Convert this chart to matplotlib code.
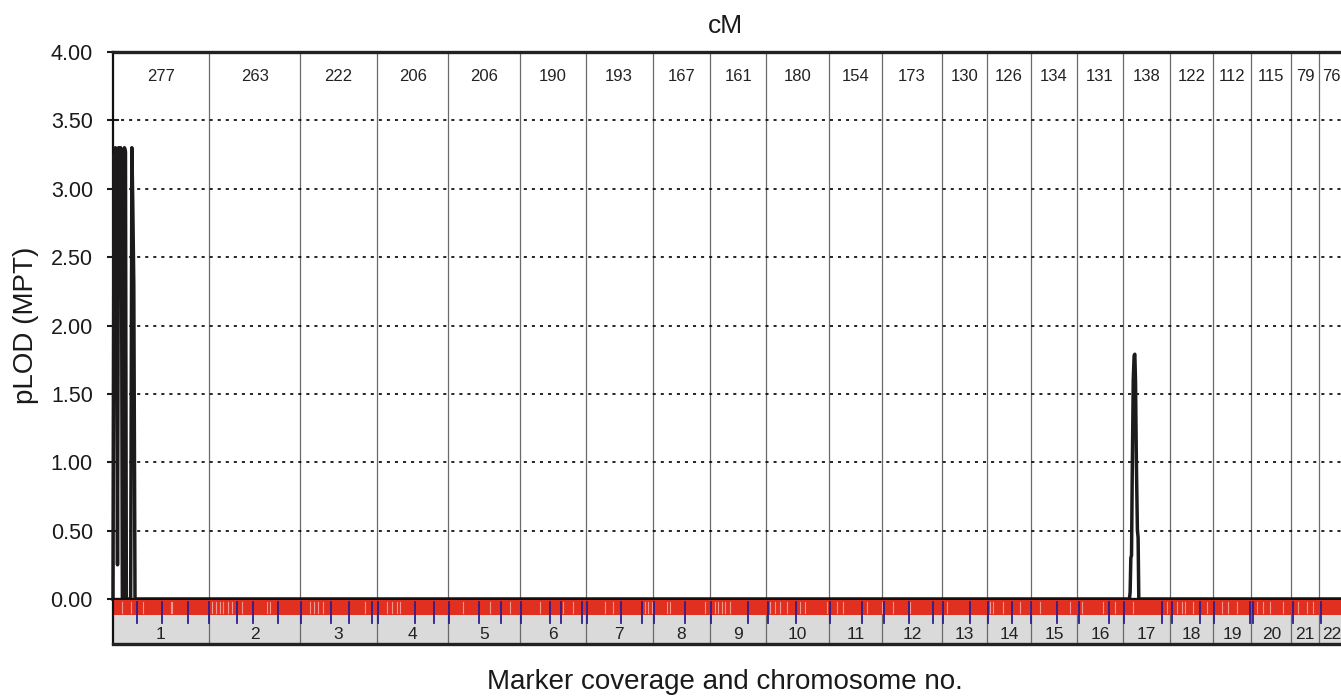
import matplotlib
matplotlib.use("Agg")
import matplotlib.pyplot as plt
import numpy as np

plt.rcParams['font.family'] = ['Liberation Sans', 'DejaVu Sans']
plt.rcParams['lines.scale_dashes'] = False

# ---------------- data ----------------
chrom_names = [str(i) for i in range(1, 23)]
chrom_cm = [277, 263, 222, 206, 206, 190, 193, 167, 161, 180, 154, 173,
            130, 126, 134, 131, 138, 122, 112, 115, 79, 76]

# pLOD profile: chromosome 1 (positions in cM within chromosome)
chr1_pos = [0, 3, 5, 7, 9, 13, 16, 19, 20.5, 22, 24, 27, 30, 33, 36, 38.5,
            51, 54.5, 57, 60, 62, 63.5]
chr1_lod = [0, 3.25, 3.2, 3.3, 3.22, 0.25, 3.3, 3.2, 3.15, 3.3, 3.28, 0.0,
            0.0, 3.3, 3.27, 0.0, 0.0, 3.3, 2.9, 2.3, 1.0, 0.0]
# chromosome 17 peak (positions in cM within chromosome)
chr17_pos = [20, 22, 24, 26, 28, 31, 33.5, 35.5, 37.5, 40, 43, 45, 47]
chr17_lod = [0, 0.05, 0.3, 0.32, 0.9, 1.6, 1.78, 1.79, 1.6, 1.0, 0.5, 0.45, 0]

# marker band (cumulative cM)
blue_ticks = [68, 142, 216, 276, 357, 403, 477, 542, 628, 682, 748, 764, 871,
              927, 970, 1057, 1120, 1176, 1262, 1294, 1354, 1367, 1466, 1527,
              1562, 1650, 1727, 1833, 1889, 1971, 2069, 2162, 2224, 2297, 2365,
              2396, 2474, 2524, 2595, 2650, 2723, 2787, 2875, 2918, 3027, 3057,
              3137, 3178, 3281, 3289, 3404, 3487]
white_marks = [25, 51, 87, 166, 170, 285, 297, 309, 318, 333, 342, 371, 443,
               453, 568, 580, 592, 607, 727, 790, 804, 819, 828, 1011, 1088,
               1146, 1232, 1298, 1327, 1420, 1443, 1535, 1545, 1554, 1598, 1607,
               1708, 1737, 1747, 1756, 1766, 1780, 1896, 1910, 1925, 1944, 1982,
               1997, 2059, 2088, 2107, 2175, 2218, 2252, 2300, 2406, 2531, 2540,
               2569, 2617, 2646, 2675, 2761, 2795, 2858, 2891, 2944, 3040, 3069,
               3084, 3093, 3117, 3156, 3199, 3218, 3242, 3300, 3319, 3339, 3377,
               3420, 3444, 3464]

yticks = [0.0, 0.5, 1.0, 1.5, 2.0, 2.5, 3.0, 3.5, 4.0]

# ---------------- derived ----------------
starts = np.concatenate([[0], np.cumsum(chrom_cm)[:-1]])
ends = np.cumsum(chrom_cm)
total = ends[-1]
mids = (starts + ends) / 2

pos = ([starts[0] + p for p in chr1_pos] +
       [starts[16] + p for p in chr17_pos] + [total])
lod = chr1_lod + chr17_lod + [0]

W, H = 1341, 697
fig = plt.figure(figsize=(W / 100, H / 100), dpi=100)
fig.patch.set_facecolor('white')

ax = fig.add_axes([113 / W, 1 - 599 / H, 1232 / W, 547 / H])
ax.set_xlim(0, total)
ax.set_ylim(0, 4)

for b in ends[:-1]:
    ax.axvline(b, color='#6a6a6a', lw=0.9, zorder=1)
for yv in yticks[1:-1]:
    ax.axhline(yv, color='black', lw=1.2, linestyle=(0, (2.2, 3.6)), zorder=1)

ax.plot(pos, lod, color='#1c1a1a', lw=2.5, solid_joinstyle='round', zorder=3,
        clip_on=False)

for m, c in zip(mids, chrom_cm):
    ax.text(m, 3.79, str(c), ha='center', va='baseline', fontsize=12,
            color='#222222', clip_on=True)

ax.set_xticks([])
ax.set_yticks(yticks)
ax.set_yticklabels([f"{v:.2f}" for v in yticks], fontsize=15.5, color='#1a1a1a')
ax.tick_params(axis='y', direction='inout', length=9, width=1.5, pad=10,
               color='#1a1a1a')
ax.spines['right'].set_visible(False)
ax.spines['top'].set_linewidth(2.4)
ax.spines['top'].set_color('#222222')
ax.spines['left'].set_linewidth(1.6)
ax.spines['left'].set_color('#111111')
ax.spines['bottom'].set_linewidth(2.4)
ax.spines['bottom'].set_color('#111111')
ax.spines['bottom'].set_zorder(4)

# marker band
bx = fig.add_axes([113 / W, 1 - 643.5 / H, 1232 / W, 43.5 / H])
bx.set_xlim(0, total)
bx.set_ylim(0, 43.5)
bx.axhspan(29, 43.5, color='#e1301f', lw=0, zorder=1)
bx.axhspan(0, 29, color='#dadada', lw=0, zorder=1)
for w in white_marks:
    bx.plot([w, w], [31, 42], color='white', lw=0.8, alpha=0.5, zorder=2)
for b in ends[:-1]:
    bx.plot([b, b], [0, 29], color='#6a6a6a', lw=0.9, zorder=2)
for t in blue_ticks:
    bx.plot([t, t], [20.5, 42], color='#2b1f8f', lw=1.3, zorder=3)
for m, n in zip(mids, chrom_names):
    bx.text(m, 4.8, n, ha='center', va='baseline', fontsize=12.5,
            color='#222222', clip_on=True)
bx.set_xticks([])
bx.set_yticks([])
bx.spines['top'].set_visible(False)
bx.spines['right'].set_visible(False)
bx.spines['bottom'].set_linewidth(2.4)
bx.spines['bottom'].set_color('#222222')
bx.spines['left'].set_linewidth(1.6)
bx.spines['left'].set_color('#111111')

fig.text(725 / W, 1 - 33 / H, 'cM', ha='center', va='baseline', fontsize=19,
         color='#1a1a1a')
fig.text(26 / W, 1 - 325 / H, 'pLOD (MPT)', ha='center', va='center',
         rotation=90, fontsize=20, color='#1a1a1a')
fig.text(725 / W, 1 - 689 / H, 'Marker coverage and chromosome no.',
         ha='center', va='baseline', fontsize=20, color='#1a1a1a')

fig.savefig('out.png', dpi=100, facecolor='white')
